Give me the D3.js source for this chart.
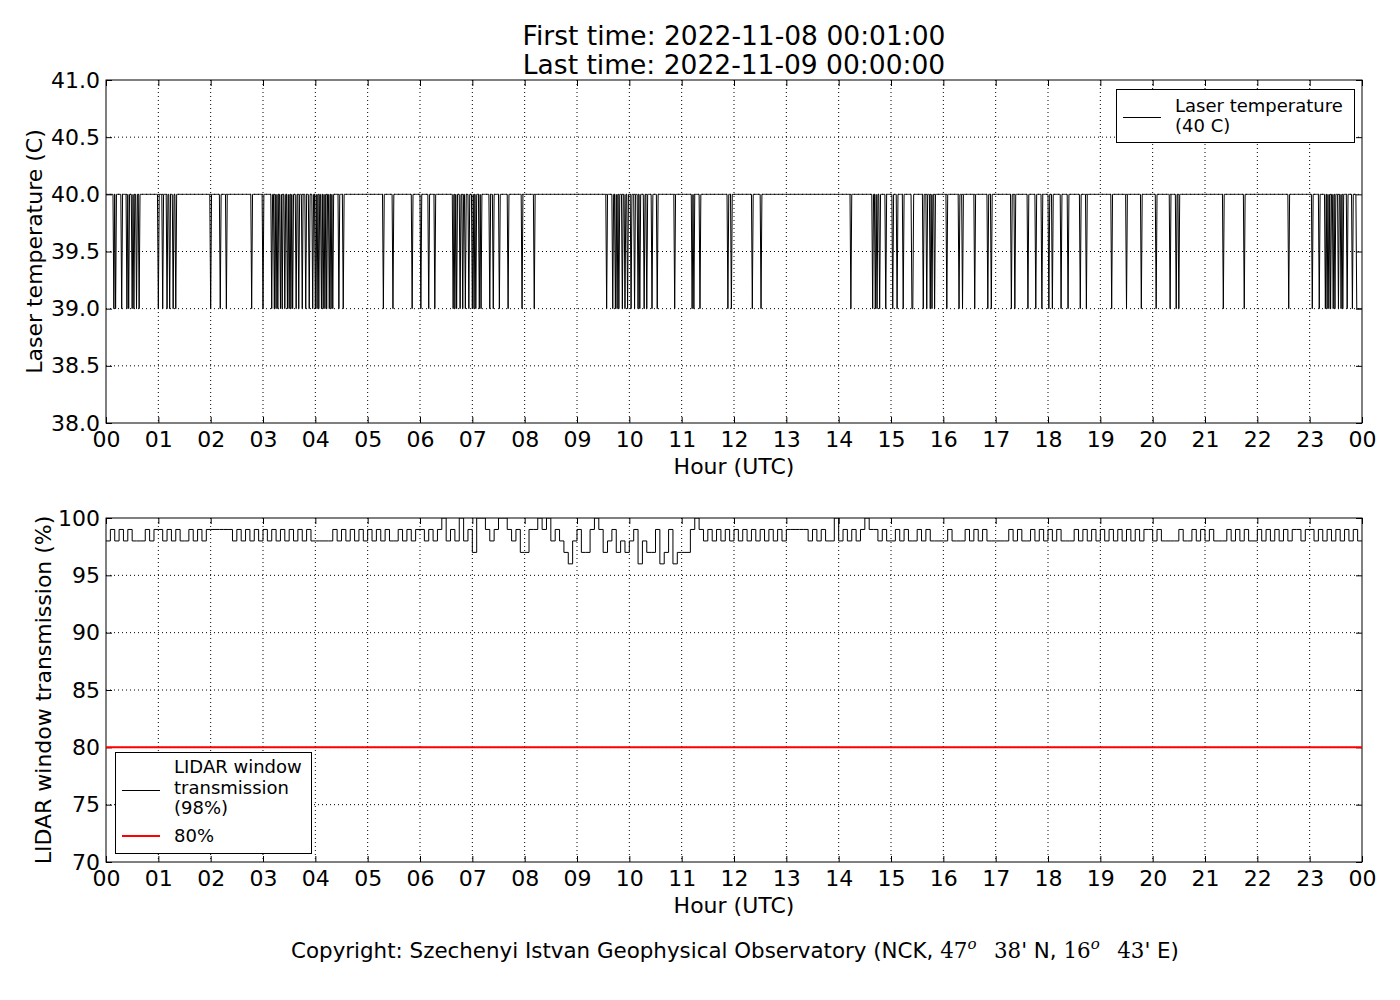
<!DOCTYPE html>
<html>
<head>
<meta charset="utf-8">
<script src="https://cdn.jsdelivr.net/npm/d3@7"></script>
<style>
body { margin: 0; background: #fff; }
svg { font-family: "DejaVu Sans", sans-serif; }
</style>
</head>
<body>
<svg id="chart" width="1400" height="1000"></svg>
<script>
// tick labels
const hourLabels = ["00", "01", "02", "03", "04", "05", "06", "07", "08", "09", "10", "11",
	"12", "13", "14", "15", "16", "17", "18", "19", "20", "21", "22", "23", "00"];
const laserTicks = [38.0, 38.5, 39.0, 39.5, 40.0, 40.5, 41.0];
const transTicks = [70, 75, 80, 85, 90, 95, 100];

// laser temperature: 40 C, minutes of the day (UTC) where it dropped to 39 C
const laserDipMinutes = [9, 11, 18, 24, 26, 30, 32, 35, 38, 60, 65, 70, 73, 77, 80, 120, 131, 138, 167, 180,
	190, 193, 195, 197, 200, 202, 205, 208, 210, 212, 214, 218, 221, 225, 229, 233, 237, 240, 242, 244,
	247, 249, 251, 253, 256, 258, 260, 267, 272, 318, 329, 351, 361, 370, 377, 398, 400, 402, 406, 409,
	412, 416, 420, 422, 424, 428, 430, 440, 444, 451, 461, 477, 491, 574, 581, 584, 586, 588, 592, 595,
	598, 602, 606, 610, 612, 617, 620, 626, 632, 652, 672, 674, 681, 713, 717, 741, 751, 854, 879, 882,
	884, 887, 894, 902, 907, 914, 924, 925, 937, 941, 945, 947, 950, 964, 978, 982, 996, 1011, 1015, 1038,
	1042, 1057, 1066, 1073, 1081, 1085, 1095, 1103, 1117, 1124, 1153, 1170, 1187, 1204, 1220, 1227, 1230, 1281, 1305, 1356,
	1383, 1391, 1398, 1400, 1402, 1404, 1407, 1409, 1413, 1416, 1418, 1423, 1429];
const laserLowSpans = [[1434, 1440]];

// LIDAR window transmission (%), one string per hour, 5-minute steps
// 6 = 96, 7 = 97, 8 = 98, 9 = 99, 0 = 100
const transHours = [
	"898989888989", "989898898989", "999998989898", "989898989898",
	"888898989898", "989898898989", "989890898089", "700989009897",
	"799090898768", "977909789787", "896877967967", "779098989898",
	"989898989898", "999998989880", "898989099898", "898988989888",
	"898889898988", "888989889898", "989888989898", "989898989899",
	"898888988989", "898889898988", "989898989989", "989898989898"];
const transCodes = { "6": 96, "7": 97, "8": 98, "9": 99, "0": 100 };
const limitValue = 80;

const svg = d3.select("#chart");
const left = 106, right = 1362;

const x = d3.scaleLinear().domain([0, 1440]).range([left, right]);
const hourMinutes = hourLabels.map((d, i) => i * 60);

// series
const dipSet = new Set(laserDipMinutes);
const laserSeries = d3.range(1, 1441).map(function (m) {
	const low = dipSet.has(m) || laserLowSpans.some(s => m >= s[0] && m <= s[1]);
	return { m: m, v: low ? 39 : 40 };
});

const transValues = transHours.join("").split("").map(c => transCodes[c]);
const transSeries = transValues.map((v, i) => ({ m: i * 5, v: v }));
transSeries.push({ m: 1440, v: transValues[transValues.length - 1] });

function makePanel(top, bottom, domain, ticks, fmt, label, labelX, id) {
	const y = d3.scaleLinear().domain(domain).range([bottom, top]);
	const g = svg.append("g");

	g.append("defs").append("clipPath")
		.attr("id", id)
		.append("rect")
		.attr("x", left).attr("y", top)
		.attr("width", right - left).attr("height", bottom - top);

	// grid
	g.append("g").selectAll("line")
		.data(hourMinutes.slice(1, -1))
		.enter().append("line")
		.attr("x1", d => x(d)).attr("x2", d => x(d))
		.attr("y1", top).attr("y2", bottom)
		.attr("stroke", "#000").attr("stroke-width", 1)
		.attr("stroke-dasharray", "1,3");
	g.append("g").selectAll("line")
		.data(ticks.slice(1, -1))
		.enter().append("line")
		.attr("x1", left).attr("x2", right)
		.attr("y1", d => y(d)).attr("y2", d => y(d))
		.attr("stroke", "#000").attr("stroke-width", 1)
		.attr("stroke-dasharray", "1,3");

	// axes, ticks inside on all four sides
	g.append("g")
		.attr("transform", "translate(0," + bottom + ")")
		.call(d3.axisBottom(x).tickValues(hourMinutes)
			.tickFormat((d, i) => hourLabels[i]).tickSize(-6).tickPadding(8));
	g.append("g")
		.attr("transform", "translate(0," + top + ")")
		.call(d3.axisTop(x).tickValues(hourMinutes).tickFormat("").tickSize(-6));
	g.append("g")
		.attr("transform", "translate(" + left + ",0)")
		.call(d3.axisLeft(y).tickValues(ticks).tickFormat(fmt).tickSize(-6).tickPadding(6));
	g.append("g")
		.attr("transform", "translate(" + right + ",0)")
		.call(d3.axisRight(y).tickValues(ticks).tickFormat("").tickSize(-6));

	g.selectAll(".domain").remove();
	g.selectAll(".tick line").attr("stroke", "#000");
	g.selectAll(".tick text")
		.attr("fill", "#000")
		.style("font-size", "22px")
		.style("font-family", "'DejaVu Sans', sans-serif");

	g.append("rect")
		.attr("x", left).attr("y", top)
		.attr("width", right - left).attr("height", bottom - top)
		.attr("fill", "none").attr("stroke", "#000").attr("stroke-width", 1);

	g.append("text")
		.attr("x", (left + right) / 2)
		.attr("y", bottom + 51)
		.attr("text-anchor", "middle")
		.style("font-size", "22px")
		.text("Hour (UTC)");

	g.append("text")
		.attr("transform", "translate(" + labelX + "," + (top + bottom) / 2 + ") rotate(-90)")
		.attr("text-anchor", "middle")
		.style("font-size", "22px")
		.text(label);

	return { g: g, y: y };
}

// top panel: laser temperature
const p1 = makePanel(80, 423, [38, 41], laserTicks, d3.format(".1f"), "Laser temperature (C)", 42, "clip1");

p1.g.append("path")
	.datum(laserSeries)
	.attr("clip-path", "url(#clip1)")
	.attr("fill", "none")
	.attr("stroke", "#000")
	.attr("stroke-width", 1)
	.attr("d", d3.line().x(d => x(d.m)).y(d => p1.y(d.v)));

// bottom panel: window transmission
const p2 = makePanel(518, 862, [70, 100], transTicks, d3.format("d"), "LIDAR window transmission (%)", 51, "clip2");

p2.g.append("path")
	.datum(transSeries)
	.attr("clip-path", "url(#clip2)")
	.attr("fill", "none")
	.attr("stroke", "#000")
	.attr("stroke-width", 1)
	.attr("d", d3.line().curve(d3.curveStepAfter).x(d => x(d.m)).y(d => p2.y(d.v)));

p2.g.append("line")
	.attr("x1", left).attr("x2", right)
	.attr("y1", p2.y(limitValue)).attr("y2", p2.y(limitValue))
	.attr("stroke", "#ff0000").attr("stroke-width", 2);

// legends
const leg1 = svg.append("g");
leg1.append("rect")
	.attr("x", 1116.5).attr("y", 89.5).attr("width", 238).attr("height", 53)
	.attr("fill", "#fff").attr("stroke", "#000").attr("stroke-width", 1);
leg1.append("line")
	.attr("x1", 1123).attr("x2", 1161).attr("y1", 117.5).attr("y2", 117.5)
	.attr("stroke", "#000").attr("stroke-width", 1);
leg1.selectAll("text")
	.data(["Laser temperature", "(40 C)"])
	.enter().append("text")
	.attr("x", 1175)
	.attr("y", (d, i) => 112 + i * 20)
	.style("font-size", "18px")
	.text(d => d);

const leg2 = svg.append("g");
leg2.append("rect")
	.attr("x", 115.5).attr("y", 752.5).attr("width", 196).attr("height", 101)
	.attr("fill", "#fff").attr("stroke", "#000").attr("stroke-width", 1);
leg2.append("line")
	.attr("x1", 122).attr("x2", 160).attr("y1", 790.5).attr("y2", 790.5)
	.attr("stroke", "#000").attr("stroke-width", 1);
leg2.append("line")
	.attr("x1", 122).attr("x2", 160).attr("y1", 836).attr("y2", 836)
	.attr("stroke", "#ff0000").attr("stroke-width", 2);
leg2.selectAll("text.l")
	.data(["LIDAR window", "transmission", "(98%)"])
	.enter().append("text")
	.attr("x", 174)
	.attr("y", (d, i) => 773 + i * 20.5)
	.style("font-size", "18px")
	.text(d => d);
leg2.append("text")
	.attr("x", 174).attr("y", 842)
	.style("font-size", "18px")
	.text("80%");

// title
svg.selectAll("text.title")
	.data(["First time: 2022-11-08 00:01:00", "Last time: 2022-11-09 00:00:00"])
	.enter().append("text")
	.attr("x", (left + right) / 2)
	.attr("y", (d, i) => 45 + i * 29)
	.attr("text-anchor", "middle")
	.style("font-size", "26.5px")
	.text(d => d);

// copyright line with the math-style coordinates
const cp = svg.append("text")
	.attr("x", 735).attr("y", 958)
	.attr("text-anchor", "middle")
	.style("font-size", "21.4px");
const serif = "'DejaVu Serif', 'Liberation Serif', serif";
cp.append("tspan").text("Copyright: Szechenyi Istvan Geophysical Observatory (NCK, ");
cp.append("tspan").style("font-family", serif).text("47");
cp.append("tspan").style("font-family", serif).style("font-style", "italic")
	.style("font-size", "15px").attr("dy", -9).text("o");
cp.append("tspan").style("font-family", serif).attr("dy", 9).text("\u2002 38");
cp.append("tspan").text("' N, ");
cp.append("tspan").style("font-family", serif).text("16");
cp.append("tspan").style("font-family", serif).style("font-style", "italic")
	.style("font-size", "15px").attr("dy", -9).text("o");
cp.append("tspan").style("font-family", serif).attr("dy", 9).text("\u2002 43");
cp.append("tspan").text("' E)");
</script>
</body>
</html>
